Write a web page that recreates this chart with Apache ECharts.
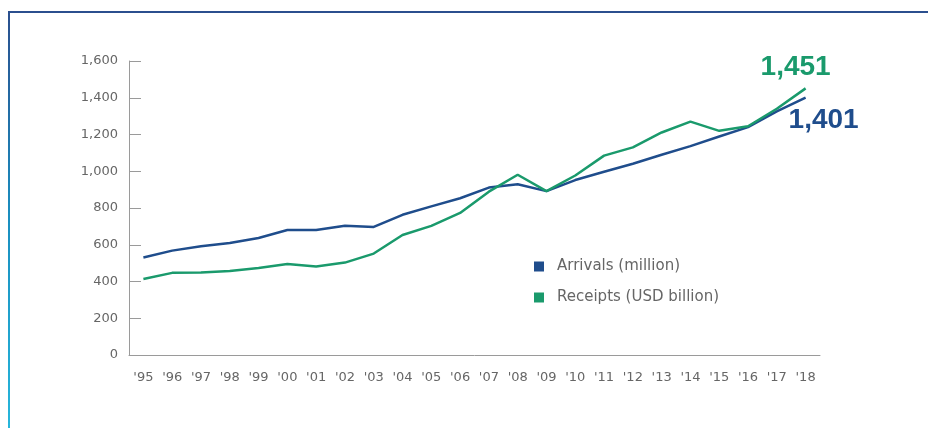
<!DOCTYPE html>
<html lang="en">
<head>
  <meta charset="UTF-8">
  <title>Arrivals and receipts</title>
  <script src="https://cdn.jsdelivr.net/npm/echarts@6/dist/echarts.min.js"></script>
  <style>
    html, body { margin: 0; padding: 0; background: #fff; }
    #chart { width: 928px; height: 428px; }
  </style>
</head>
<body>
<div id="chart"></div>
<script>
  // data
  var years = ["'95", "'96", "'97", "'98", "'99", "'00", "'01", "'02", "'03", "'04", "'05", "'06",
               "'07", "'08", "'09", "'10", "'11", "'12", "'13", "'14", "'15", "'16", "'17", "'18"];
  var arrivals = [531, 568, 592, 609, 637, 680, 680, 703, 697, 763, 809, 853,
                  911, 929, 892, 952, 997, 1041, 1090, 1137, 1189, 1240, 1326, 1401];
  var receipts = [414, 447, 449, 457, 474, 495, 482, 503, 552, 653, 703, 773,
                  889, 981, 892, 977, 1085, 1130, 1211, 1270, 1220, 1245, 1340, 1451];
  var yTicks = [0, 200, 400, 600, 800, 1000, 1200, 1400, 1600];

  var blue = '#1f4d8c';
  var green = '#1a9a6c';
  var axisFont = 'DejaVu Sans, sans-serif';
  var numFont = 'Liberation Sans, Arial, sans-serif';

  function fmt(v) { return v.toLocaleString('en-US'); }

  var chart = echarts.init(document.getElementById('chart'));
  chart.setOption({
    animation: false,
    grid: { left: 129, right: 108, top: 61, bottom: 73 },
    graphic: [
      {
        type: 'rect', left: 8, top: 11, z: -1,
        shape: { width: 920, height: 2 },
        style: { fill: '#2b4f8e' }
      },
      {
        type: 'rect', left: 8, top: 11, z: -1,
        shape: { width: 2, height: 417 },
        style: {
          fill: new echarts.graphic.LinearGradient(0, 0, 0, 1, [
            { offset: 0, color: '#2b4f8e' },
            { offset: 0.5, color: '#1a8fc0' },
            { offset: 1, color: '#27b6db' }
          ])
        }
      }
    ],
    legend: {
      orient: 'vertical',
      left: 529, top: 254,
      itemWidth: 10, itemHeight: 10, itemGap: 16,
      icon: 'rect',
      textStyle: { color: '#666', fontSize: 15, fontFamily: axisFont, padding: [0, 0, 0, 8] },
      data: ['Arrivals (million)', 'Receipts (USD billion)']
    },
    xAxis: {
      type: 'category',
      data: years,
      boundaryGap: true,
      axisLine: { lineStyle: { color: '#9a9a9a', width: 1 } },
      axisTick: { inside: true, length: 10, lineStyle: { color: '#9a9a9a' } },
      axisLabel: { color: '#666', fontSize: 13, margin: 16, fontFamily: axisFont }
    },
    yAxis: {
      type: 'value',
      min: yTicks[0], max: yTicks[yTicks.length - 1], interval: 200,
      axisLine: { show: true, lineStyle: { color: '#9a9a9a', width: 1 } },
      axisTick: { show: true, inside: true, length: 12, lineStyle: { color: '#9a9a9a' } },
      splitLine: { show: false },
      axisLabel: {
        color: '#666', fontSize: 13, margin: 11,
        fontFamily: axisFont,
        formatter: fmt
      }
    },
    series: [
      {
        name: 'Arrivals (million)',
        type: 'line',
        data: arrivals,
        color: blue,
        symbol: 'none',
        lineStyle: { width: 2.5, color: blue },
        endLabel: {
          show: true, formatter: function (p) { return fmt(p.value); },
          color: blue, fontSize: 28, fontWeight: 'bold', fontFamily: numFont, offset: [-25, 23]
        }
      },
      {
        name: 'Receipts (USD billion)',
        type: 'line',
        data: receipts,
        color: green,
        symbol: 'none',
        lineStyle: { width: 2.5, color: green },
        endLabel: {
          show: true, formatter: function (p) { return fmt(p.value); },
          color: green, fontSize: 28, fontWeight: 'bold', fontFamily: numFont, offset: [-53, -21]
        }
      }
    ]
  });
</script>
</body>
</html>
